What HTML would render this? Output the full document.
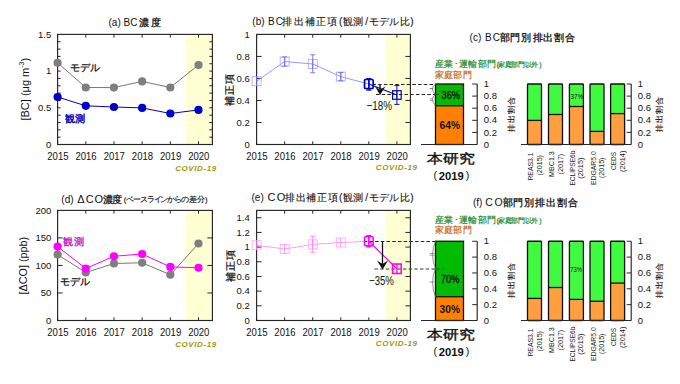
<!DOCTYPE html>
<html><head><meta charset="utf-8"><style>
html,body{margin:0;padding:0;background:#fff;width:680px;height:384px;overflow:hidden}
svg{display:block}
text{font-family:'Liberation Sans', sans-serif}
</style></head><body>
<svg width="680" height="384" viewBox="0 0 680 384">
<rect width="680" height="384" fill="#fff"/>
<rect x="186.00" y="34.40" width="26.40" height="110.10" fill="#ffffd4" stroke="none" stroke-width="1" />
<line x1="57.60" y1="34.40" x2="57.60" y2="37.60" stroke="#262626" stroke-width="1.0" />
<line x1="57.60" y1="144.50" x2="57.60" y2="141.30" stroke="#262626" stroke-width="1.0" />
<line x1="85.78" y1="34.40" x2="85.78" y2="37.60" stroke="#262626" stroke-width="1.0" />
<line x1="85.78" y1="144.50" x2="85.78" y2="141.30" stroke="#262626" stroke-width="1.0" />
<line x1="113.96" y1="34.40" x2="113.96" y2="37.60" stroke="#262626" stroke-width="1.0" />
<line x1="113.96" y1="144.50" x2="113.96" y2="141.30" stroke="#262626" stroke-width="1.0" />
<line x1="142.14" y1="34.40" x2="142.14" y2="37.60" stroke="#262626" stroke-width="1.0" />
<line x1="142.14" y1="144.50" x2="142.14" y2="141.30" stroke="#262626" stroke-width="1.0" />
<line x1="170.32" y1="34.40" x2="170.32" y2="37.60" stroke="#262626" stroke-width="1.0" />
<line x1="170.32" y1="144.50" x2="170.32" y2="141.30" stroke="#262626" stroke-width="1.0" />
<line x1="198.50" y1="34.40" x2="198.50" y2="37.60" stroke="#262626" stroke-width="1.0" />
<line x1="198.50" y1="144.50" x2="198.50" y2="141.30" stroke="#262626" stroke-width="1.0" />
<line x1="57.60" y1="137.16" x2="60.60" y2="137.16" stroke="#262626" stroke-width="1.0" />
<line x1="57.60" y1="129.82" x2="60.60" y2="129.82" stroke="#262626" stroke-width="1.0" />
<line x1="57.60" y1="122.48" x2="60.60" y2="122.48" stroke="#262626" stroke-width="1.0" />
<line x1="57.60" y1="115.14" x2="60.60" y2="115.14" stroke="#262626" stroke-width="1.0" />
<line x1="57.60" y1="107.80" x2="60.60" y2="107.80" stroke="#262626" stroke-width="1.0" />
<line x1="57.60" y1="100.46" x2="60.60" y2="100.46" stroke="#262626" stroke-width="1.0" />
<line x1="57.60" y1="93.12" x2="60.60" y2="93.12" stroke="#262626" stroke-width="1.0" />
<line x1="57.60" y1="85.78" x2="60.60" y2="85.78" stroke="#262626" stroke-width="1.0" />
<line x1="57.60" y1="78.44" x2="60.60" y2="78.44" stroke="#262626" stroke-width="1.0" />
<line x1="57.60" y1="71.10" x2="60.60" y2="71.10" stroke="#262626" stroke-width="1.0" />
<line x1="57.60" y1="63.76" x2="60.60" y2="63.76" stroke="#262626" stroke-width="1.0" />
<line x1="57.60" y1="56.42" x2="60.60" y2="56.42" stroke="#262626" stroke-width="1.0" />
<line x1="57.60" y1="49.08" x2="60.60" y2="49.08" stroke="#262626" stroke-width="1.0" />
<line x1="57.60" y1="41.74" x2="60.60" y2="41.74" stroke="#262626" stroke-width="1.0" />
<line x1="212.40" y1="137.16" x2="209.40" y2="137.16" stroke="#262626" stroke-width="1.0" />
<line x1="212.40" y1="129.82" x2="209.40" y2="129.82" stroke="#262626" stroke-width="1.0" />
<line x1="212.40" y1="122.48" x2="209.40" y2="122.48" stroke="#262626" stroke-width="1.0" />
<line x1="212.40" y1="115.14" x2="209.40" y2="115.14" stroke="#262626" stroke-width="1.0" />
<line x1="212.40" y1="107.80" x2="209.40" y2="107.80" stroke="#262626" stroke-width="1.0" />
<line x1="212.40" y1="100.46" x2="209.40" y2="100.46" stroke="#262626" stroke-width="1.0" />
<line x1="212.40" y1="93.12" x2="209.40" y2="93.12" stroke="#262626" stroke-width="1.0" />
<line x1="212.40" y1="85.78" x2="209.40" y2="85.78" stroke="#262626" stroke-width="1.0" />
<line x1="212.40" y1="78.44" x2="209.40" y2="78.44" stroke="#262626" stroke-width="1.0" />
<line x1="212.40" y1="71.10" x2="209.40" y2="71.10" stroke="#262626" stroke-width="1.0" />
<line x1="212.40" y1="63.76" x2="209.40" y2="63.76" stroke="#262626" stroke-width="1.0" />
<line x1="212.40" y1="56.42" x2="209.40" y2="56.42" stroke="#262626" stroke-width="1.0" />
<line x1="212.40" y1="49.08" x2="209.40" y2="49.08" stroke="#262626" stroke-width="1.0" />
<line x1="212.40" y1="41.74" x2="209.40" y2="41.74" stroke="#262626" stroke-width="1.0" />
<rect x="57.60" y="34.40" width="154.80" height="110.10" fill="none" stroke="#262626" stroke-width="1.15" />
<text x="51.30" y="37.60" font-size="9.9" text-anchor="end" fill="#111" textLength="13.21" lengthAdjust="spacingAndGlyphs">1.5</text>
<text x="51.30" y="74.30" font-size="9.9" text-anchor="end" fill="#111" textLength="5.28" lengthAdjust="spacingAndGlyphs">1</text>
<text x="51.30" y="111.00" font-size="9.9" text-anchor="end" fill="#111" textLength="13.21" lengthAdjust="spacingAndGlyphs">0.5</text>
<text x="51.30" y="147.70" font-size="9.9" text-anchor="end" fill="#111" textLength="5.28" lengthAdjust="spacingAndGlyphs">0</text>
<text x="57.90" y="160.20" font-size="10.3" text-anchor="middle" fill="#111" font-weight="normal" textLength="21.2" lengthAdjust="spacingAndGlyphs">2015</text>
<text x="86.08" y="160.20" font-size="10.3" text-anchor="middle" fill="#111" font-weight="normal" textLength="21.2" lengthAdjust="spacingAndGlyphs">2016</text>
<text x="114.26" y="160.20" font-size="10.3" text-anchor="middle" fill="#111" font-weight="normal" textLength="21.2" lengthAdjust="spacingAndGlyphs">2017</text>
<text x="142.44" y="160.20" font-size="10.3" text-anchor="middle" fill="#111" font-weight="normal" textLength="21.2" lengthAdjust="spacingAndGlyphs">2018</text>
<text x="170.62" y="160.20" font-size="10.3" text-anchor="middle" fill="#111" font-weight="normal" textLength="21.2" lengthAdjust="spacingAndGlyphs">2019</text>
<text x="198.80" y="160.20" font-size="10.3" text-anchor="middle" fill="#111" font-weight="normal" textLength="21.2" lengthAdjust="spacingAndGlyphs">2020</text>
<text x="196.00" y="171.00" font-size="8" text-anchor="middle" fill="#9c9a0a" font-weight="bold" font-style="italic" letter-spacing="0.6">COVID-19</text>
<text x="108.50" y="26.00" font-size="10" text-anchor="start" fill="#111" font-weight="normal" >(a) BC</text>
<text x="144.40 155.60" y="26.20" font-size="10" text-anchor="middle" fill="#111" stroke="#111" stroke-width="0.3">濃度</text>
<text transform="translate(28.6,89.2) rotate(-90)" font-size="11" text-anchor="middle" fill="#111">[BC] (μg m<tspan font-size="7" dy="-4.5">-3</tspan><tspan dy="4.5">)</tspan></text>
<polyline points="57.60,62.75 85.78,87.50 113.96,87.60 142.14,81.40 170.32,87.50 198.50,65.00" fill="none" stroke="#777" stroke-width="1"/>
<polyline points="57.60,97.00 85.78,105.80 113.96,107.00 142.14,107.90 170.32,113.50 198.50,109.90" fill="none" stroke="#0000c8" stroke-width="1"/>
<circle cx="57.60" cy="62.75" r="4.1" fill="#7f7f7f"/>
<circle cx="85.78" cy="87.50" r="4.1" fill="#7f7f7f"/>
<circle cx="113.96" cy="87.60" r="4.1" fill="#7f7f7f"/>
<circle cx="142.14" cy="81.40" r="4.1" fill="#7f7f7f"/>
<circle cx="170.32" cy="87.50" r="4.1" fill="#7f7f7f"/>
<circle cx="198.50" cy="65.00" r="4.1" fill="#7f7f7f"/>
<circle cx="57.60" cy="97.00" r="4.1" fill="#0000c8"/>
<circle cx="85.78" cy="105.80" r="4.1" fill="#0000c8"/>
<circle cx="113.96" cy="107.00" r="4.1" fill="#0000c8"/>
<circle cx="142.14" cy="107.90" r="4.1" fill="#0000c8"/>
<circle cx="170.32" cy="113.50" r="4.1" fill="#0000c8"/>
<circle cx="198.50" cy="109.90" r="4.1" fill="#0000c8"/>
<text x="69.50" y="71.20" font-size="10" text-anchor="start" fill="#111" font-weight="normal" stroke="#111" stroke-width="0.3">モデル</text>
<text x="64.60" y="122.00" font-size="10" text-anchor="start" fill="#1010c0" font-weight="normal" letter-spacing="0.6" stroke="#1010c0" stroke-width="0.5">観測</text>
<rect x="186.00" y="210.40" width="26.40" height="110.10" fill="#ffffd4" stroke="none" stroke-width="1" />
<line x1="57.60" y1="210.40" x2="57.60" y2="213.60" stroke="#262626" stroke-width="1.0" />
<line x1="57.60" y1="320.50" x2="57.60" y2="317.30" stroke="#262626" stroke-width="1.0" />
<line x1="85.78" y1="210.40" x2="85.78" y2="213.60" stroke="#262626" stroke-width="1.0" />
<line x1="85.78" y1="320.50" x2="85.78" y2="317.30" stroke="#262626" stroke-width="1.0" />
<line x1="113.96" y1="210.40" x2="113.96" y2="213.60" stroke="#262626" stroke-width="1.0" />
<line x1="113.96" y1="320.50" x2="113.96" y2="317.30" stroke="#262626" stroke-width="1.0" />
<line x1="142.14" y1="210.40" x2="142.14" y2="213.60" stroke="#262626" stroke-width="1.0" />
<line x1="142.14" y1="320.50" x2="142.14" y2="317.30" stroke="#262626" stroke-width="1.0" />
<line x1="170.32" y1="210.40" x2="170.32" y2="213.60" stroke="#262626" stroke-width="1.0" />
<line x1="170.32" y1="320.50" x2="170.32" y2="317.30" stroke="#262626" stroke-width="1.0" />
<line x1="198.50" y1="210.40" x2="198.50" y2="213.60" stroke="#262626" stroke-width="1.0" />
<line x1="198.50" y1="320.50" x2="198.50" y2="317.30" stroke="#262626" stroke-width="1.0" />
<line x1="57.60" y1="292.98" x2="62.60" y2="292.98" stroke="#262626" stroke-width="1.0" />
<line x1="57.60" y1="265.45" x2="62.60" y2="265.45" stroke="#262626" stroke-width="1.0" />
<line x1="57.60" y1="237.93" x2="62.60" y2="237.93" stroke="#262626" stroke-width="1.0" />
<line x1="212.40" y1="292.98" x2="207.40" y2="292.98" stroke="#262626" stroke-width="1.0" />
<line x1="212.40" y1="265.45" x2="207.40" y2="265.45" stroke="#262626" stroke-width="1.0" />
<line x1="212.40" y1="237.93" x2="207.40" y2="237.93" stroke="#262626" stroke-width="1.0" />
<rect x="57.60" y="210.40" width="154.80" height="110.10" fill="none" stroke="#262626" stroke-width="1.15" />
<text x="51.30" y="213.60" font-size="9.9" text-anchor="end" fill="#111" textLength="15.85" lengthAdjust="spacingAndGlyphs">200</text>
<text x="51.30" y="241.12" font-size="9.9" text-anchor="end" fill="#111" textLength="15.85" lengthAdjust="spacingAndGlyphs">150</text>
<text x="51.30" y="268.65" font-size="9.9" text-anchor="end" fill="#111" textLength="15.85" lengthAdjust="spacingAndGlyphs">100</text>
<text x="51.30" y="296.18" font-size="9.9" text-anchor="end" fill="#111" textLength="10.56" lengthAdjust="spacingAndGlyphs">50</text>
<text x="51.30" y="323.70" font-size="9.9" text-anchor="end" fill="#111" textLength="5.28" lengthAdjust="spacingAndGlyphs">0</text>
<text x="57.90" y="336.20" font-size="10.3" text-anchor="middle" fill="#111" font-weight="normal" textLength="21.2" lengthAdjust="spacingAndGlyphs">2015</text>
<text x="86.08" y="336.20" font-size="10.3" text-anchor="middle" fill="#111" font-weight="normal" textLength="21.2" lengthAdjust="spacingAndGlyphs">2016</text>
<text x="114.26" y="336.20" font-size="10.3" text-anchor="middle" fill="#111" font-weight="normal" textLength="21.2" lengthAdjust="spacingAndGlyphs">2017</text>
<text x="142.44" y="336.20" font-size="10.3" text-anchor="middle" fill="#111" font-weight="normal" textLength="21.2" lengthAdjust="spacingAndGlyphs">2018</text>
<text x="170.62" y="336.20" font-size="10.3" text-anchor="middle" fill="#111" font-weight="normal" textLength="21.2" lengthAdjust="spacingAndGlyphs">2019</text>
<text x="198.80" y="336.20" font-size="10.3" text-anchor="middle" fill="#111" font-weight="normal" textLength="21.2" lengthAdjust="spacingAndGlyphs">2020</text>
<text x="196.00" y="347.00" font-size="8" text-anchor="middle" fill="#9c9a0a" font-weight="bold" font-style="italic" letter-spacing="0.6">COVID-19</text>
<text x="61.30" y="202.60" font-size="10" text-anchor="start" fill="#111" font-weight="normal" >(d)</text>
<text x="81.00 89.80 98.80" y="202.60" font-size="11" text-anchor="middle" fill="#111" >ΔCO</text>
<text x="107.50 116.90" y="202.80" font-size="10" text-anchor="middle" fill="#111" stroke="#111" stroke-width="0.3">濃度</text>
<text x="125.00 130.20 137.20 144.00 150.80 157.50 164.30 171.40 177.80 184.60 192.70 200.80 206.30" y="202.20" font-size="7.6" text-anchor="middle" fill="#111" stroke="#111" stroke-width="0.15">(ベースラインからの差分)</text>
<text transform="translate(26.6,265.6) rotate(-90)" font-size="10.8" text-anchor="middle" fill="#111">[ΔCO] (ppb)</text>
<polyline points="57.60,254.60 85.78,272.50 113.96,263.50 142.14,262.75 170.32,274.75 198.50,243.50" fill="none" stroke="#777" stroke-width="1"/>
<polyline points="57.60,246.60 85.78,268.50 113.96,256.25 142.14,254.00 170.32,266.90 198.50,267.75" fill="none" stroke="#ff00ff" stroke-width="1.0"/>
<circle cx="57.60" cy="254.60" r="4.1" fill="#7f7f7f"/>
<circle cx="85.78" cy="272.50" r="4.1" fill="#7f7f7f"/>
<circle cx="113.96" cy="263.50" r="4.1" fill="#7f7f7f"/>
<circle cx="142.14" cy="262.75" r="4.1" fill="#7f7f7f"/>
<circle cx="170.32" cy="274.75" r="4.1" fill="#7f7f7f"/>
<circle cx="198.50" cy="243.50" r="4.1" fill="#7f7f7f"/>
<circle cx="57.60" cy="246.60" r="4.1" fill="#ff00ff"/>
<circle cx="85.78" cy="268.50" r="4.1" fill="#ff00ff"/>
<circle cx="113.96" cy="256.25" r="4.1" fill="#ff00ff"/>
<circle cx="142.14" cy="254.00" r="4.1" fill="#ff00ff"/>
<circle cx="170.32" cy="266.90" r="4.1" fill="#ff00ff"/>
<circle cx="198.50" cy="267.75" r="4.1" fill="#ff00ff"/>
<text x="63.00" y="245.20" font-size="10" text-anchor="start" fill="#c020c0" font-weight="normal" letter-spacing="0.5" stroke="#c020c0" stroke-width="0.35">観測</text>
<text x="60.00" y="284.60" font-size="10" text-anchor="start" fill="#111" font-weight="normal" stroke="#111" stroke-width="0.3">モデル</text>
<rect x="385.50" y="34.40" width="24.90" height="110.10" fill="#ffffd4" stroke="none" stroke-width="1" />
<line x1="256.60" y1="34.40" x2="256.60" y2="37.60" stroke="#262626" stroke-width="1.0" />
<line x1="256.60" y1="144.50" x2="256.60" y2="141.30" stroke="#262626" stroke-width="1.0" />
<line x1="284.66" y1="34.40" x2="284.66" y2="37.60" stroke="#262626" stroke-width="1.0" />
<line x1="284.66" y1="144.50" x2="284.66" y2="141.30" stroke="#262626" stroke-width="1.0" />
<line x1="312.72" y1="34.40" x2="312.72" y2="37.60" stroke="#262626" stroke-width="1.0" />
<line x1="312.72" y1="144.50" x2="312.72" y2="141.30" stroke="#262626" stroke-width="1.0" />
<line x1="340.78" y1="34.40" x2="340.78" y2="37.60" stroke="#262626" stroke-width="1.0" />
<line x1="340.78" y1="144.50" x2="340.78" y2="141.30" stroke="#262626" stroke-width="1.0" />
<line x1="368.84" y1="34.40" x2="368.84" y2="37.60" stroke="#262626" stroke-width="1.0" />
<line x1="368.84" y1="144.50" x2="368.84" y2="141.30" stroke="#262626" stroke-width="1.0" />
<line x1="396.90" y1="34.40" x2="396.90" y2="37.60" stroke="#262626" stroke-width="1.0" />
<line x1="396.90" y1="144.50" x2="396.90" y2="141.30" stroke="#262626" stroke-width="1.0" />
<line x1="256.60" y1="122.48" x2="261.60" y2="122.48" stroke="#262626" stroke-width="1.0" />
<line x1="256.60" y1="100.46" x2="261.60" y2="100.46" stroke="#262626" stroke-width="1.0" />
<line x1="256.60" y1="78.44" x2="261.60" y2="78.44" stroke="#262626" stroke-width="1.0" />
<line x1="256.60" y1="56.42" x2="261.60" y2="56.42" stroke="#262626" stroke-width="1.0" />
<line x1="410.40" y1="122.48" x2="405.40" y2="122.48" stroke="#262626" stroke-width="1.0" />
<line x1="410.40" y1="100.46" x2="405.40" y2="100.46" stroke="#262626" stroke-width="1.0" />
<line x1="410.40" y1="78.44" x2="405.40" y2="78.44" stroke="#262626" stroke-width="1.0" />
<line x1="410.40" y1="56.42" x2="405.40" y2="56.42" stroke="#262626" stroke-width="1.0" />
<rect x="256.60" y="34.40" width="153.80" height="110.10" fill="none" stroke="#262626" stroke-width="1.15" />
<text x="249.80" y="37.60" font-size="9.9" text-anchor="end" fill="#111" textLength="5.28" lengthAdjust="spacingAndGlyphs">1</text>
<text x="249.80" y="59.62" font-size="9.9" text-anchor="end" fill="#111" textLength="13.21" lengthAdjust="spacingAndGlyphs">0.8</text>
<text x="249.80" y="81.64" font-size="9.9" text-anchor="end" fill="#111" textLength="13.21" lengthAdjust="spacingAndGlyphs">0.6</text>
<text x="249.80" y="103.66" font-size="9.9" text-anchor="end" fill="#111" textLength="13.21" lengthAdjust="spacingAndGlyphs">0.4</text>
<text x="249.80" y="125.68" font-size="9.9" text-anchor="end" fill="#111" textLength="13.21" lengthAdjust="spacingAndGlyphs">0.2</text>
<text x="249.80" y="147.70" font-size="9.9" text-anchor="end" fill="#111" textLength="5.28" lengthAdjust="spacingAndGlyphs">0</text>
<text x="256.90" y="160.20" font-size="10.3" text-anchor="middle" fill="#111" font-weight="normal" textLength="21.2" lengthAdjust="spacingAndGlyphs">2015</text>
<text x="284.96" y="160.20" font-size="10.3" text-anchor="middle" fill="#111" font-weight="normal" textLength="21.2" lengthAdjust="spacingAndGlyphs">2016</text>
<text x="313.02" y="160.20" font-size="10.3" text-anchor="middle" fill="#111" font-weight="normal" textLength="21.2" lengthAdjust="spacingAndGlyphs">2017</text>
<text x="341.08" y="160.20" font-size="10.3" text-anchor="middle" fill="#111" font-weight="normal" textLength="21.2" lengthAdjust="spacingAndGlyphs">2018</text>
<text x="369.14" y="160.20" font-size="10.3" text-anchor="middle" fill="#111" font-weight="normal" textLength="21.2" lengthAdjust="spacingAndGlyphs">2019</text>
<text x="397.20" y="160.20" font-size="10.3" text-anchor="middle" fill="#111" font-weight="normal" textLength="21.2" lengthAdjust="spacingAndGlyphs">2020</text>
<text x="396.70" y="170.20" font-size="8" text-anchor="middle" fill="#9c9a0a" font-weight="bold" font-style="italic" letter-spacing="0.6">COVID-19</text>
<text x="252.30" y="24.90" font-size="10" text-anchor="start" fill="#111" font-weight="normal" >(b)</text>
<text x="271.30 279.30" y="24.90" font-size="10" text-anchor="middle" fill="#111" >BC</text>
<text x="287.20 299.10 309.70 321.00 332.20 340.60 348.10 358.40 366.60 374.30 384.00 394.30 405.00 411.80" y="24.80" font-size="10" text-anchor="middle" fill="#111" stroke="#111" stroke-width="0.12">排出補正項(観測/モデル比)</text>
<text transform="translate(233.2,89.2) rotate(-90)" font-size="10" text-anchor="middle" fill="#111" letter-spacing="0.9" stroke="#111" stroke-width="0.3">補正項</text>
<polyline points="256.60,81.25 284.66,61.50 312.72,64.00 340.78,76.60" fill="none" stroke="#8c8cff" stroke-width="0.9"/>
<line x1="340.78" y1="76.60" x2="368.84" y2="84.00" stroke="#8c8cff" stroke-width="0.9" />
<line x1="368.84" y1="84.00" x2="396.90" y2="95.00" stroke="#0000cc" stroke-width="1.1" />
<rect x="252.10" y="76.75" width="9.00" height="9.00" fill="none" stroke="#a4a4ff" stroke-width="0.8" rx="0"/>
<line x1="256.60" y1="76.75" x2="256.60" y2="85.75" stroke="#7070ff" stroke-width="0.9" />
<rect x="280.16" y="57.00" width="9.00" height="9.00" fill="none" stroke="#a4a4ff" stroke-width="0.8" rx="0"/>
<line x1="284.66" y1="57.00" x2="284.66" y2="66.00" stroke="#7070ff" stroke-width="0.9" />
<line x1="284.66" y1="56.90" x2="284.66" y2="66.25" stroke="#7070ff" stroke-width="0.9" />
<line x1="282.06" y1="56.90" x2="287.26" y2="56.90" stroke="#7070ff" stroke-width="0.9" />
<line x1="282.06" y1="66.25" x2="287.26" y2="66.25" stroke="#7070ff" stroke-width="0.9" />
<rect x="308.22" y="59.50" width="9.00" height="9.00" fill="none" stroke="#a4a4ff" stroke-width="0.8" rx="0"/>
<line x1="312.72" y1="59.50" x2="312.72" y2="68.50" stroke="#7070ff" stroke-width="0.9" />
<line x1="312.72" y1="54.75" x2="312.72" y2="72.75" stroke="#7070ff" stroke-width="0.9" />
<line x1="310.12" y1="54.75" x2="315.32" y2="54.75" stroke="#7070ff" stroke-width="0.9" />
<line x1="310.12" y1="72.75" x2="315.32" y2="72.75" stroke="#7070ff" stroke-width="0.9" />
<rect x="336.28" y="72.10" width="9.00" height="9.00" fill="none" stroke="#a4a4ff" stroke-width="0.8" rx="0"/>
<line x1="340.78" y1="72.10" x2="340.78" y2="81.10" stroke="#7070ff" stroke-width="0.9" />
<line x1="340.78" y1="72.50" x2="340.78" y2="80.60" stroke="#7070ff" stroke-width="0.9" />
<line x1="338.18" y1="72.50" x2="343.38" y2="72.50" stroke="#7070ff" stroke-width="0.9" />
<line x1="338.18" y1="80.60" x2="343.38" y2="80.60" stroke="#7070ff" stroke-width="0.9" />
<line x1="372.50" y1="84.50" x2="435.50" y2="84.50" stroke="#222" stroke-width="1.0" stroke-dasharray="3.5,2.2"/>
<line x1="376.00" y1="94.50" x2="440.00" y2="94.50" stroke="#222" stroke-width="1.0" stroke-dasharray="3.5,2.2"/>
<rect x="364.54" y="79.50" width="8.60" height="9.00" fill="none" stroke="#0000cc" stroke-width="1.7" rx="1"/>
<line x1="368.84" y1="79.50" x2="368.84" y2="88.50" stroke="#0000cc" stroke-width="1.36" />
<line x1="368.84" y1="78.75" x2="368.84" y2="90.00" stroke="#0000cc" stroke-width="1.36" />
<line x1="366.24" y1="78.75" x2="371.44" y2="78.75" stroke="#0000cc" stroke-width="1.36" />
<line x1="366.24" y1="90.00" x2="371.44" y2="90.00" stroke="#0000cc" stroke-width="1.36" />
<rect x="392.60" y="90.70" width="8.60" height="8.60" fill="none" stroke="#0000cc" stroke-width="1.2" rx="0"/>
<line x1="396.90" y1="90.70" x2="396.90" y2="99.30" stroke="#0000cc" stroke-width="0.96" />
<line x1="396.90" y1="85.60" x2="396.90" y2="104.40" stroke="#0000cc" stroke-width="0.96" />
<line x1="394.30" y1="85.60" x2="399.50" y2="85.60" stroke="#0000cc" stroke-width="0.96" />
<line x1="394.30" y1="104.40" x2="399.50" y2="104.40" stroke="#0000cc" stroke-width="0.96" />
<line x1="380.00" y1="84.50" x2="380.00" y2="90.00" stroke="#111" stroke-width="1.4" />
<path d="M375,86.2 L380,95 L385.5,86.2 L380,90 Z" fill="#111"/>
<text x="366.50" y="109.75" font-size="12.5" fill="#111" font-weight="normal" textLength="25.40" lengthAdjust="spacingAndGlyphs">−18%</text>
<rect x="385.50" y="210.40" width="24.90" height="110.10" fill="#ffffd4" stroke="none" stroke-width="1" />
<line x1="256.60" y1="210.40" x2="256.60" y2="213.60" stroke="#262626" stroke-width="1.0" />
<line x1="256.60" y1="320.50" x2="256.60" y2="317.30" stroke="#262626" stroke-width="1.0" />
<line x1="284.66" y1="210.40" x2="284.66" y2="213.60" stroke="#262626" stroke-width="1.0" />
<line x1="284.66" y1="320.50" x2="284.66" y2="317.30" stroke="#262626" stroke-width="1.0" />
<line x1="312.72" y1="210.40" x2="312.72" y2="213.60" stroke="#262626" stroke-width="1.0" />
<line x1="312.72" y1="320.50" x2="312.72" y2="317.30" stroke="#262626" stroke-width="1.0" />
<line x1="340.78" y1="210.40" x2="340.78" y2="213.60" stroke="#262626" stroke-width="1.0" />
<line x1="340.78" y1="320.50" x2="340.78" y2="317.30" stroke="#262626" stroke-width="1.0" />
<line x1="368.84" y1="210.40" x2="368.84" y2="213.60" stroke="#262626" stroke-width="1.0" />
<line x1="368.84" y1="320.50" x2="368.84" y2="317.30" stroke="#262626" stroke-width="1.0" />
<line x1="396.90" y1="210.40" x2="396.90" y2="213.60" stroke="#262626" stroke-width="1.0" />
<line x1="396.90" y1="320.50" x2="396.90" y2="317.30" stroke="#262626" stroke-width="1.0" />
<line x1="256.60" y1="305.82" x2="261.60" y2="305.82" stroke="#262626" stroke-width="1.0" />
<line x1="256.60" y1="291.14" x2="261.60" y2="291.14" stroke="#262626" stroke-width="1.0" />
<line x1="256.60" y1="276.46" x2="261.60" y2="276.46" stroke="#262626" stroke-width="1.0" />
<line x1="256.60" y1="261.78" x2="261.60" y2="261.78" stroke="#262626" stroke-width="1.0" />
<line x1="256.60" y1="247.10" x2="261.60" y2="247.10" stroke="#262626" stroke-width="1.0" />
<line x1="256.60" y1="232.42" x2="261.60" y2="232.42" stroke="#262626" stroke-width="1.0" />
<line x1="256.60" y1="217.74" x2="261.60" y2="217.74" stroke="#262626" stroke-width="1.0" />
<line x1="410.40" y1="305.82" x2="405.40" y2="305.82" stroke="#262626" stroke-width="1.0" />
<line x1="410.40" y1="291.14" x2="405.40" y2="291.14" stroke="#262626" stroke-width="1.0" />
<line x1="410.40" y1="276.46" x2="405.40" y2="276.46" stroke="#262626" stroke-width="1.0" />
<line x1="410.40" y1="261.78" x2="405.40" y2="261.78" stroke="#262626" stroke-width="1.0" />
<line x1="410.40" y1="247.10" x2="405.40" y2="247.10" stroke="#262626" stroke-width="1.0" />
<line x1="410.40" y1="232.42" x2="405.40" y2="232.42" stroke="#262626" stroke-width="1.0" />
<line x1="410.40" y1="217.74" x2="405.40" y2="217.74" stroke="#262626" stroke-width="1.0" />
<rect x="256.60" y="210.40" width="153.80" height="110.10" fill="none" stroke="#262626" stroke-width="1.15" />
<text x="249.80" y="323.70" font-size="9.9" text-anchor="end" fill="#111" textLength="5.28" lengthAdjust="spacingAndGlyphs">0</text>
<text x="249.80" y="309.02" font-size="9.9" text-anchor="end" fill="#111" textLength="13.21" lengthAdjust="spacingAndGlyphs">0.2</text>
<text x="249.80" y="294.34" font-size="9.9" text-anchor="end" fill="#111" textLength="13.21" lengthAdjust="spacingAndGlyphs">0.4</text>
<text x="249.80" y="279.66" font-size="9.9" text-anchor="end" fill="#111" textLength="13.21" lengthAdjust="spacingAndGlyphs">0.6</text>
<text x="249.80" y="264.98" font-size="9.9" text-anchor="end" fill="#111" textLength="13.21" lengthAdjust="spacingAndGlyphs">0.8</text>
<text x="249.80" y="250.30" font-size="9.9" text-anchor="end" fill="#111" textLength="5.28" lengthAdjust="spacingAndGlyphs">1</text>
<text x="249.80" y="235.62" font-size="9.9" text-anchor="end" fill="#111" textLength="13.21" lengthAdjust="spacingAndGlyphs">1.2</text>
<text x="249.80" y="220.94" font-size="9.9" text-anchor="end" fill="#111" textLength="13.21" lengthAdjust="spacingAndGlyphs">1.4</text>
<text x="256.90" y="336.20" font-size="10.3" text-anchor="middle" fill="#111" font-weight="normal" textLength="21.2" lengthAdjust="spacingAndGlyphs">2015</text>
<text x="284.96" y="336.20" font-size="10.3" text-anchor="middle" fill="#111" font-weight="normal" textLength="21.2" lengthAdjust="spacingAndGlyphs">2016</text>
<text x="313.02" y="336.20" font-size="10.3" text-anchor="middle" fill="#111" font-weight="normal" textLength="21.2" lengthAdjust="spacingAndGlyphs">2017</text>
<text x="341.08" y="336.20" font-size="10.3" text-anchor="middle" fill="#111" font-weight="normal" textLength="21.2" lengthAdjust="spacingAndGlyphs">2018</text>
<text x="369.14" y="336.20" font-size="10.3" text-anchor="middle" fill="#111" font-weight="normal" textLength="21.2" lengthAdjust="spacingAndGlyphs">2019</text>
<text x="397.20" y="336.20" font-size="10.3" text-anchor="middle" fill="#111" font-weight="normal" textLength="21.2" lengthAdjust="spacingAndGlyphs">2020</text>
<text x="396.70" y="346.20" font-size="8" text-anchor="middle" fill="#9c9a0a" font-weight="bold" font-style="italic" letter-spacing="0.6">COVID-19</text>
<text x="251.50" y="201.20" font-size="10" text-anchor="start" fill="#111" font-weight="normal" >(e)</text>
<text x="271.60 281.00" y="201.20" font-size="11" text-anchor="middle" fill="#111" >CO</text>
<text x="290.00 300.60 310.90 321.90 332.70 340.60 348.10 358.40 366.60 374.30 384.00 394.30 405.00 411.80" y="201.40" font-size="10" text-anchor="middle" fill="#111" stroke="#111" stroke-width="0.12">排出補正項(観測/モデル比)</text>
<text transform="translate(233.5,265.6) rotate(-90)" font-size="10" text-anchor="middle" fill="#111" letter-spacing="0.9" stroke="#111" stroke-width="0.3">補正項</text>
<polyline points="256.60,245.25 284.66,249.00 312.72,244.40 340.78,242.50 368.84,241.25" fill="none" stroke="#ff90ff" stroke-width="0.9"/>
<line x1="368.84" y1="241.25" x2="396.90" y2="268.75" stroke="#ff00ff" stroke-width="1.2" />
<rect x="252.10" y="240.75" width="9.00" height="9.00" fill="none" stroke="#ffa0ff" stroke-width="0.8" rx="0"/>
<line x1="256.60" y1="240.75" x2="256.60" y2="249.75" stroke="#ff80ff" stroke-width="0.9" />
<rect x="280.16" y="244.50" width="9.00" height="9.00" fill="none" stroke="#ffa0ff" stroke-width="0.8" rx="0"/>
<line x1="284.66" y1="244.50" x2="284.66" y2="253.50" stroke="#ff80ff" stroke-width="0.9" />
<rect x="308.22" y="239.90" width="9.00" height="9.00" fill="none" stroke="#ffa0ff" stroke-width="0.8" rx="0"/>
<line x1="312.72" y1="239.90" x2="312.72" y2="248.90" stroke="#ff80ff" stroke-width="0.9" />
<line x1="312.72" y1="236.25" x2="312.72" y2="252.25" stroke="#ff80ff" stroke-width="0.9" />
<line x1="310.12" y1="236.25" x2="315.32" y2="236.25" stroke="#ff80ff" stroke-width="0.9" />
<line x1="310.12" y1="252.25" x2="315.32" y2="252.25" stroke="#ff80ff" stroke-width="0.9" />
<rect x="336.28" y="238.00" width="9.00" height="9.00" fill="none" stroke="#ffa0ff" stroke-width="0.8" rx="0"/>
<line x1="340.78" y1="238.00" x2="340.78" y2="247.00" stroke="#ff80ff" stroke-width="0.9" />
<line x1="363.75" y1="241.50" x2="435.50" y2="241.50" stroke="#222" stroke-width="1.0" stroke-dasharray="3.5,2.2"/>
<line x1="374.40" y1="269.00" x2="436.00" y2="269.00" stroke="#3a3a3a" stroke-width="1.0" stroke-dasharray="3.5,2.2"/>
<rect x="364.54" y="236.75" width="8.60" height="9.00" fill="none" stroke="#ff00ff" stroke-width="1.6" rx="1"/>
<line x1="368.84" y1="236.75" x2="368.84" y2="245.75" stroke="#ff00ff" stroke-width="1.2800000000000002" />
<line x1="368.84" y1="235.60" x2="368.84" y2="246.90" stroke="#ff00ff" stroke-width="1.2800000000000002" />
<line x1="366.24" y1="235.60" x2="371.44" y2="235.60" stroke="#ff00ff" stroke-width="1.2800000000000002" />
<line x1="366.24" y1="246.90" x2="371.44" y2="246.90" stroke="#ff00ff" stroke-width="1.2800000000000002" />
<rect x="392.60" y="264.05" width="8.60" height="9.40" fill="none" stroke="#ff00ff" stroke-width="1.6" rx="0"/>
<line x1="396.90" y1="264.05" x2="396.90" y2="273.45" stroke="#ff00ff" stroke-width="1.2800000000000002" />
<line x1="382.50" y1="241.50" x2="382.50" y2="265.00" stroke="#111" stroke-width="1.3" />
<path d="M377,260.5 L382.5,269.5 L388,260.5 L382.5,264 Z" fill="#111"/>
<text x="369.10" y="285.00" font-size="12.5" fill="#111" font-weight="normal" textLength="24.65" lengthAdjust="spacingAndGlyphs">−35%</text>
<rect x="435.50" y="84.00" width="28.00" height="21.78" fill="#00bb00" stroke="none" stroke-width="1" />
<rect x="435.50" y="105.78" width="28.00" height="38.72" fill="#ff8000" stroke="none" stroke-width="1" />
<rect x="435.50" y="84.00" width="28.00" height="60.50" fill="none" stroke="#111" stroke-width="1.3" />
<line x1="435.50" y1="105.78" x2="463.50" y2="105.78" stroke="#111" stroke-width="1.3" />
<line x1="421.00" y1="144.50" x2="477.20" y2="144.50" stroke="#262626" stroke-width="1.15" />
<line x1="477.20" y1="84.00" x2="477.20" y2="144.50" stroke="#262626" stroke-width="1.15" />
<line x1="477.20" y1="144.50" x2="472.20" y2="144.50" stroke="#262626" stroke-width="1.0" />
<text x="483.80" y="147.60" font-size="9.9" text-anchor="start" fill="#111" textLength="5.28" lengthAdjust="spacingAndGlyphs">0</text>
<line x1="477.20" y1="132.40" x2="472.20" y2="132.40" stroke="#262626" stroke-width="1.0" />
<text x="483.80" y="135.50" font-size="9.9" text-anchor="start" fill="#111" textLength="13.21" lengthAdjust="spacingAndGlyphs">0.2</text>
<line x1="477.20" y1="120.30" x2="472.20" y2="120.30" stroke="#262626" stroke-width="1.0" />
<text x="483.80" y="123.40" font-size="9.9" text-anchor="start" fill="#111" textLength="13.21" lengthAdjust="spacingAndGlyphs">0.4</text>
<line x1="477.20" y1="108.20" x2="472.20" y2="108.20" stroke="#262626" stroke-width="1.0" />
<text x="483.80" y="111.30" font-size="9.9" text-anchor="start" fill="#111" textLength="13.21" lengthAdjust="spacingAndGlyphs">0.6</text>
<line x1="477.20" y1="96.10" x2="472.20" y2="96.10" stroke="#262626" stroke-width="1.0" />
<text x="483.80" y="99.20" font-size="9.9" text-anchor="start" fill="#111" textLength="13.21" lengthAdjust="spacingAndGlyphs">0.8</text>
<line x1="477.20" y1="84.00" x2="472.20" y2="84.00" stroke="#262626" stroke-width="1.0" />
<text x="483.80" y="87.10" font-size="9.9" text-anchor="start" fill="#111" textLength="5.28" lengthAdjust="spacingAndGlyphs">1</text>
<g transform="translate(513.9,114.25) rotate(-90)">
<text x="-13.60 -4.50 4.50 13.60" y="0.00" font-size="8.0" text-anchor="middle" fill="#111" stroke="#111" stroke-width="0.1">排出割合</text>
</g>
<rect x="527.50" y="84.00" width="14.00" height="36.40" fill="#40fa40" stroke="none" stroke-width="1" />
<rect x="527.50" y="120.40" width="14.00" height="24.10" fill="#ff9f3f" stroke="none" stroke-width="1" />
<rect x="527.50" y="84.00" width="14.00" height="60.50" fill="none" stroke="#111" stroke-width="1.3" rx="0.8"/>
<line x1="527.50" y1="120.40" x2="541.50" y2="120.40" stroke="#111" stroke-width="1.3" />
<rect x="548.50" y="84.00" width="14.00" height="30.50" fill="#40fa40" stroke="none" stroke-width="1" />
<rect x="548.50" y="114.50" width="14.00" height="30.00" fill="#ff9f3f" stroke="none" stroke-width="1" />
<rect x="548.50" y="84.00" width="14.00" height="60.50" fill="none" stroke="#111" stroke-width="1.3" rx="0.8"/>
<line x1="548.50" y1="114.50" x2="562.50" y2="114.50" stroke="#111" stroke-width="1.3" />
<rect x="569.40" y="84.00" width="14.00" height="22.50" fill="#40fa40" stroke="none" stroke-width="1" />
<rect x="569.40" y="106.50" width="14.00" height="38.00" fill="#ff9f3f" stroke="none" stroke-width="1" />
<rect x="569.40" y="84.00" width="14.00" height="60.50" fill="none" stroke="#111" stroke-width="1.3" rx="0.8"/>
<line x1="569.40" y1="106.50" x2="583.40" y2="106.50" stroke="#111" stroke-width="1.3" />
<rect x="590.00" y="84.00" width="14.00" height="47.40" fill="#40fa40" stroke="none" stroke-width="1" />
<rect x="590.00" y="131.40" width="14.00" height="13.10" fill="#ff9f3f" stroke="none" stroke-width="1" />
<rect x="590.00" y="84.00" width="14.00" height="60.50" fill="none" stroke="#111" stroke-width="1.3" rx="0.8"/>
<line x1="590.00" y1="131.40" x2="604.00" y2="131.40" stroke="#111" stroke-width="1.3" />
<rect x="610.60" y="84.00" width="14.00" height="29.60" fill="#40fa40" stroke="none" stroke-width="1" />
<rect x="610.60" y="113.60" width="14.00" height="30.90" fill="#ff9f3f" stroke="none" stroke-width="1" />
<rect x="610.60" y="84.00" width="14.00" height="60.50" fill="none" stroke="#111" stroke-width="1.3" rx="0.8"/>
<line x1="610.60" y1="113.60" x2="624.60" y2="113.60" stroke="#111" stroke-width="1.3" />
<line x1="521.00" y1="144.50" x2="631.20" y2="144.50" stroke="#262626" stroke-width="1.15" />
<line x1="631.20" y1="84.00" x2="631.20" y2="144.50" stroke="#262626" stroke-width="1.15" />
<line x1="631.20" y1="144.50" x2="626.70" y2="144.50" stroke="#262626" stroke-width="1.0" />
<text x="637.80" y="147.60" font-size="9.9" text-anchor="start" fill="#111" textLength="5.28" lengthAdjust="spacingAndGlyphs">0</text>
<line x1="631.20" y1="132.40" x2="626.70" y2="132.40" stroke="#262626" stroke-width="1.0" />
<text x="637.80" y="135.50" font-size="9.9" text-anchor="start" fill="#111" textLength="13.21" lengthAdjust="spacingAndGlyphs">0.2</text>
<line x1="631.20" y1="120.30" x2="626.70" y2="120.30" stroke="#262626" stroke-width="1.0" />
<text x="637.80" y="123.40" font-size="9.9" text-anchor="start" fill="#111" textLength="13.21" lengthAdjust="spacingAndGlyphs">0.4</text>
<line x1="631.20" y1="108.20" x2="626.70" y2="108.20" stroke="#262626" stroke-width="1.0" />
<text x="637.80" y="111.30" font-size="9.9" text-anchor="start" fill="#111" textLength="13.21" lengthAdjust="spacingAndGlyphs">0.6</text>
<line x1="631.20" y1="96.10" x2="626.70" y2="96.10" stroke="#262626" stroke-width="1.0" />
<text x="637.80" y="99.20" font-size="9.9" text-anchor="start" fill="#111" textLength="13.21" lengthAdjust="spacingAndGlyphs">0.8</text>
<line x1="631.20" y1="84.00" x2="626.70" y2="84.00" stroke="#262626" stroke-width="1.0" />
<text x="637.80" y="87.10" font-size="9.9" text-anchor="start" fill="#111" textLength="5.28" lengthAdjust="spacingAndGlyphs">1</text>
<g transform="translate(661.5,114.25) rotate(-90)">
<text x="-13.60 -4.50 4.50 13.60" y="0.00" font-size="8.0" text-anchor="middle" fill="#111" stroke="#111" stroke-width="0.1">排出割合</text>
</g>
<text x="469.60" y="41.00" font-size="10" fill="#111">(c)</text>
<text x="488.30 496.30" y="41.00" font-size="10" text-anchor="middle" fill="#111" >BC</text>
<text x="504.70 515.30 526.20 537.50 548.10 559.40 570.30" y="41.20" font-size="10" text-anchor="middle" fill="#111" stroke="#111" stroke-width="0.3">部門別排出割合</text>
<text x="439.20 448.70 456.20 463.30 472.80 482.30 491.80" y="67.20" font-size="9" text-anchor="middle" fill="#1f8a1f" stroke="#1f8a1f" stroke-width="0.2">産業･運輸部門</text>
<text x="497.60 501.90 508.30 514.90 521.30 528.00 534.80 540.50" y="66.80" font-size="7" text-anchor="middle" fill="#1f8a1f" stroke="#1f8a1f" stroke-width="0.2">(家庭部門以外)</text>
<text x="439.00 448.40 457.90 467.40" y="77.50" font-size="9" text-anchor="middle" fill="#c4661c" stroke="#c4661c" stroke-width="0.2">家庭部門</text>
<text transform="translate(533.10,180.60) rotate(-90)" font-size="7.2" fill="#222" textLength="28.10" lengthAdjust="spacingAndGlyphs">REAS3.1</text>
<text transform="translate(541.50,175.60) rotate(-90)" font-size="7.2" fill="#222" textLength="20.60" lengthAdjust="spacingAndGlyphs">(2015)</text>
<text transform="translate(554.10,176.90) rotate(-90)" font-size="7.2" fill="#222" textLength="25.65" lengthAdjust="spacingAndGlyphs">MBC1.3</text>
<text transform="translate(562.50,174.40) rotate(-90)" font-size="7.2" fill="#222" textLength="20.65" lengthAdjust="spacingAndGlyphs">(2017)</text>
<text transform="translate(575.00,185.60) rotate(-90)" font-size="7.2" fill="#222" textLength="35.00" lengthAdjust="spacingAndGlyphs">ECLIPSE6b</text>
<text transform="translate(583.40,178.75) rotate(-90)" font-size="7.2" fill="#222" textLength="21.25" lengthAdjust="spacingAndGlyphs">(2015)</text>
<text transform="translate(595.60,185.00) rotate(-90)" font-size="7.2" fill="#222" textLength="33.75" lengthAdjust="spacingAndGlyphs">EDGAR5.0</text>
<text transform="translate(604.00,178.10) rotate(-90)" font-size="7.2" fill="#222" textLength="20.60" lengthAdjust="spacingAndGlyphs">(2015)</text>
<text transform="translate(616.20,170.00) rotate(-90)" font-size="7.2" fill="#222" textLength="18.10" lengthAdjust="spacingAndGlyphs">CEDS</text>
<text transform="translate(624.60,171.90) rotate(-90)" font-size="7.2" fill="#222" textLength="21.30" lengthAdjust="spacingAndGlyphs">(2014)</text>
<text x="427.3" y="163.30" font-size="12.8" fill="#111" stroke="#111" stroke-width="0.4" textLength="47.5" lengthAdjust="spacingAndGlyphs">本研究</text>
<text x="451.25" y="179.50" font-size="11.5" text-anchor="middle" fill="#111" font-weight="bold" textLength="25" lengthAdjust="spacingAndGlyphs">2019</text>
<text x="435.3" y="179.10" font-size="10.5" text-anchor="middle" fill="#111">(</text>
<text x="467.6" y="179.10" font-size="10.5" text-anchor="middle" fill="#111">)</text>
<text x="441.50" y="98.75" font-size="11.5" fill="#111" stroke="#111" stroke-width="0.35" font-weight="normal" textLength="18.50" lengthAdjust="spacingAndGlyphs">36%</text>
<text x="439.60" y="128.75" font-size="11.5" fill="#111" font-weight="bold" textLength="20.40" lengthAdjust="spacingAndGlyphs">64%</text>
<text x="570.60" y="99.25" font-size="7.5" fill="#111" font-weight="normal" textLength="12.40" lengthAdjust="spacingAndGlyphs">37%</text>
<path d="M435.5,84.2 Q432.4,86.5 432.4,89 Q432.4,91.8 435.5,94.3 Q432.4,96.8 432.4,99.6 Q432.4,102.6 435.5,105.4" fill="none" stroke="#777" stroke-width="0.8"/>
<line x1="429.80" y1="88.60" x2="433.20" y2="88.60" stroke="#777" stroke-width="1.0" />
<line x1="429.80" y1="98.90" x2="433.20" y2="98.90" stroke="#777" stroke-width="0.7" />
<line x1="429.80" y1="100.60" x2="433.20" y2="100.60" stroke="#777" stroke-width="0.7" />
<line x1="436.50" y1="94.50" x2="439.00" y2="94.50" stroke="#222" stroke-width="1.0" />
<rect x="435.50" y="241.25" width="28.00" height="55.48" fill="#00bb00" stroke="none" stroke-width="1" />
<rect x="435.50" y="296.73" width="28.00" height="23.77" fill="#ff8000" stroke="none" stroke-width="1" />
<rect x="435.50" y="241.25" width="28.00" height="79.25" fill="none" stroke="#111" stroke-width="1.3" />
<line x1="435.50" y1="296.73" x2="463.50" y2="296.73" stroke="#111" stroke-width="1.3" />
<line x1="421.00" y1="320.50" x2="477.20" y2="320.50" stroke="#262626" stroke-width="1.15" />
<line x1="477.20" y1="241.25" x2="477.20" y2="320.50" stroke="#262626" stroke-width="1.15" />
<line x1="477.20" y1="320.50" x2="472.20" y2="320.50" stroke="#262626" stroke-width="1.0" />
<text x="483.80" y="323.60" font-size="9.9" text-anchor="start" fill="#111" textLength="5.28" lengthAdjust="spacingAndGlyphs">0</text>
<line x1="477.20" y1="304.65" x2="472.20" y2="304.65" stroke="#262626" stroke-width="1.0" />
<text x="483.80" y="307.75" font-size="9.9" text-anchor="start" fill="#111" textLength="13.21" lengthAdjust="spacingAndGlyphs">0.2</text>
<line x1="477.20" y1="288.80" x2="472.20" y2="288.80" stroke="#262626" stroke-width="1.0" />
<text x="483.80" y="291.90" font-size="9.9" text-anchor="start" fill="#111" textLength="13.21" lengthAdjust="spacingAndGlyphs">0.4</text>
<line x1="477.20" y1="272.95" x2="472.20" y2="272.95" stroke="#262626" stroke-width="1.0" />
<text x="483.80" y="276.05" font-size="9.9" text-anchor="start" fill="#111" textLength="13.21" lengthAdjust="spacingAndGlyphs">0.6</text>
<line x1="477.20" y1="257.10" x2="472.20" y2="257.10" stroke="#262626" stroke-width="1.0" />
<text x="483.80" y="260.20" font-size="9.9" text-anchor="start" fill="#111" textLength="13.21" lengthAdjust="spacingAndGlyphs">0.8</text>
<line x1="477.20" y1="241.25" x2="472.20" y2="241.25" stroke="#262626" stroke-width="1.0" />
<text x="483.80" y="244.35" font-size="9.9" text-anchor="start" fill="#111" textLength="5.28" lengthAdjust="spacingAndGlyphs">1</text>
<g transform="translate(513.9,280.88) rotate(-90)">
<text x="-13.60 -4.50 4.50 13.60" y="0.00" font-size="8.0" text-anchor="middle" fill="#111" stroke="#111" stroke-width="0.1">排出割合</text>
</g>
<rect x="527.50" y="241.25" width="14.00" height="57.15" fill="#40fa40" stroke="none" stroke-width="1" />
<rect x="527.50" y="298.40" width="14.00" height="22.10" fill="#ff9f3f" stroke="none" stroke-width="1" />
<rect x="527.50" y="241.25" width="14.00" height="79.25" fill="none" stroke="#111" stroke-width="1.3" rx="0.8"/>
<line x1="527.50" y1="298.40" x2="541.50" y2="298.40" stroke="#111" stroke-width="1.3" />
<rect x="548.50" y="241.25" width="14.00" height="46.25" fill="#40fa40" stroke="none" stroke-width="1" />
<rect x="548.50" y="287.50" width="14.00" height="33.00" fill="#ff9f3f" stroke="none" stroke-width="1" />
<rect x="548.50" y="241.25" width="14.00" height="79.25" fill="none" stroke="#111" stroke-width="1.3" rx="0.8"/>
<line x1="548.50" y1="287.50" x2="562.50" y2="287.50" stroke="#111" stroke-width="1.3" />
<rect x="569.40" y="241.25" width="14.00" height="58.15" fill="#40fa40" stroke="none" stroke-width="1" />
<rect x="569.40" y="299.40" width="14.00" height="21.10" fill="#ff9f3f" stroke="none" stroke-width="1" />
<rect x="569.40" y="241.25" width="14.00" height="79.25" fill="none" stroke="#111" stroke-width="1.3" rx="0.8"/>
<line x1="569.40" y1="299.40" x2="583.40" y2="299.40" stroke="#111" stroke-width="1.3" />
<rect x="590.00" y="241.25" width="14.00" height="60.00" fill="#40fa40" stroke="none" stroke-width="1" />
<rect x="590.00" y="301.25" width="14.00" height="19.25" fill="#ff9f3f" stroke="none" stroke-width="1" />
<rect x="590.00" y="241.25" width="14.00" height="79.25" fill="none" stroke="#111" stroke-width="1.3" rx="0.8"/>
<line x1="590.00" y1="301.25" x2="604.00" y2="301.25" stroke="#111" stroke-width="1.3" />
<rect x="610.60" y="241.25" width="14.00" height="41.85" fill="#40fa40" stroke="none" stroke-width="1" />
<rect x="610.60" y="283.10" width="14.00" height="37.40" fill="#ff9f3f" stroke="none" stroke-width="1" />
<rect x="610.60" y="241.25" width="14.00" height="79.25" fill="none" stroke="#111" stroke-width="1.3" rx="0.8"/>
<line x1="610.60" y1="283.10" x2="624.60" y2="283.10" stroke="#111" stroke-width="1.3" />
<line x1="521.00" y1="320.50" x2="631.20" y2="320.50" stroke="#262626" stroke-width="1.15" />
<line x1="631.20" y1="241.25" x2="631.20" y2="320.50" stroke="#262626" stroke-width="1.15" />
<line x1="631.20" y1="320.50" x2="626.70" y2="320.50" stroke="#262626" stroke-width="1.0" />
<text x="637.80" y="323.60" font-size="9.9" text-anchor="start" fill="#111" textLength="5.28" lengthAdjust="spacingAndGlyphs">0</text>
<line x1="631.20" y1="304.65" x2="626.70" y2="304.65" stroke="#262626" stroke-width="1.0" />
<text x="637.80" y="307.75" font-size="9.9" text-anchor="start" fill="#111" textLength="13.21" lengthAdjust="spacingAndGlyphs">0.2</text>
<line x1="631.20" y1="288.80" x2="626.70" y2="288.80" stroke="#262626" stroke-width="1.0" />
<text x="637.80" y="291.90" font-size="9.9" text-anchor="start" fill="#111" textLength="13.21" lengthAdjust="spacingAndGlyphs">0.4</text>
<line x1="631.20" y1="272.95" x2="626.70" y2="272.95" stroke="#262626" stroke-width="1.0" />
<text x="637.80" y="276.05" font-size="9.9" text-anchor="start" fill="#111" textLength="13.21" lengthAdjust="spacingAndGlyphs">0.6</text>
<line x1="631.20" y1="257.10" x2="626.70" y2="257.10" stroke="#262626" stroke-width="1.0" />
<text x="637.80" y="260.20" font-size="9.9" text-anchor="start" fill="#111" textLength="13.21" lengthAdjust="spacingAndGlyphs">0.8</text>
<line x1="631.20" y1="241.25" x2="626.70" y2="241.25" stroke="#262626" stroke-width="1.0" />
<text x="637.80" y="244.35" font-size="9.9" text-anchor="start" fill="#111" textLength="5.28" lengthAdjust="spacingAndGlyphs">1</text>
<g transform="translate(661.5,280.88) rotate(-90)">
<text x="-13.60 -4.50 4.50 13.60" y="0.00" font-size="8.0" text-anchor="middle" fill="#111" stroke="#111" stroke-width="0.1">排出割合</text>
</g>
<text x="472.90" y="206.00" font-size="10" fill="#111">(f)</text>
<text x="489.00 498.50" y="206.00" font-size="10.5" text-anchor="middle" fill="#111" >CO</text>
<text x="507.75 518.40 529.00 540.00 551.00 561.50 572.50" y="206.20" font-size="10" text-anchor="middle" fill="#111" stroke="#111" stroke-width="0.3">部門別排出割合</text>
<text x="439.20 448.70 456.20 463.30 472.80 482.30 491.80" y="223.00" font-size="9" text-anchor="middle" fill="#1f8a1f" stroke="#1f8a1f" stroke-width="0.2">産業･運輸部門</text>
<text x="497.60 501.90 508.30 514.90 521.30 528.00 534.80 540.50" y="222.60" font-size="7" text-anchor="middle" fill="#1f8a1f" stroke="#1f8a1f" stroke-width="0.2">(家庭部門以外)</text>
<text x="439.00 448.40 457.90 467.40" y="233.00" font-size="9" text-anchor="middle" fill="#c4661c" stroke="#c4661c" stroke-width="0.2">家庭部門</text>
<text transform="translate(533.10,356.60) rotate(-90)" font-size="7.2" fill="#222" textLength="28.10" lengthAdjust="spacingAndGlyphs">REAS3.1</text>
<text transform="translate(541.50,351.60) rotate(-90)" font-size="7.2" fill="#222" textLength="20.60" lengthAdjust="spacingAndGlyphs">(2015)</text>
<text transform="translate(554.10,352.90) rotate(-90)" font-size="7.2" fill="#222" textLength="25.65" lengthAdjust="spacingAndGlyphs">MBC1.3</text>
<text transform="translate(562.50,350.40) rotate(-90)" font-size="7.2" fill="#222" textLength="20.65" lengthAdjust="spacingAndGlyphs">(2017)</text>
<text transform="translate(575.00,361.60) rotate(-90)" font-size="7.2" fill="#222" textLength="35.00" lengthAdjust="spacingAndGlyphs">ECLIPSE6b</text>
<text transform="translate(583.40,354.75) rotate(-90)" font-size="7.2" fill="#222" textLength="21.25" lengthAdjust="spacingAndGlyphs">(2015)</text>
<text transform="translate(595.60,361.00) rotate(-90)" font-size="7.2" fill="#222" textLength="33.75" lengthAdjust="spacingAndGlyphs">EDGAR5.0</text>
<text transform="translate(604.00,354.10) rotate(-90)" font-size="7.2" fill="#222" textLength="20.60" lengthAdjust="spacingAndGlyphs">(2015)</text>
<text transform="translate(616.20,346.00) rotate(-90)" font-size="7.2" fill="#222" textLength="18.10" lengthAdjust="spacingAndGlyphs">CEDS</text>
<text transform="translate(624.60,347.90) rotate(-90)" font-size="7.2" fill="#222" textLength="21.30" lengthAdjust="spacingAndGlyphs">(2014)</text>
<text x="427.3" y="339.30" font-size="12.8" fill="#111" stroke="#111" stroke-width="0.4" textLength="47.5" lengthAdjust="spacingAndGlyphs">本研究</text>
<text x="451.25" y="355.50" font-size="11.5" text-anchor="middle" fill="#111" font-weight="bold" textLength="25" lengthAdjust="spacingAndGlyphs">2019</text>
<text x="435.3" y="355.10" font-size="10.5" text-anchor="middle" fill="#111">(</text>
<text x="467.6" y="355.10" font-size="10.5" text-anchor="middle" fill="#111">)</text>
<text x="440.85" y="282.50" font-size="11.5" fill="#111" stroke="#111" stroke-width="0.35" font-weight="normal" textLength="18.55" lengthAdjust="spacingAndGlyphs">70%</text>
<text x="439.60" y="312.50" font-size="11.5" fill="#111" font-weight="bold" textLength="20.40" lengthAdjust="spacingAndGlyphs">30%</text>
<text x="570.20" y="271.90" font-size="8" fill="#111" font-weight="normal" textLength="11.70" lengthAdjust="spacingAndGlyphs">73%</text>
<path d="M435.5,241.5 Q432.6,247 432.6,254.5 Q432.6,262 435.5,268.5 Q432.6,275 432.6,282.5 Q432.6,290 435.5,297" fill="none" stroke="#777" stroke-width="0.8"/>
<line x1="429.60" y1="253.40" x2="434.30" y2="253.40" stroke="#777" stroke-width="0.7" />
<line x1="429.60" y1="255.20" x2="434.30" y2="255.20" stroke="#777" stroke-width="0.7" />
<line x1="429.60" y1="282.00" x2="434.30" y2="282.00" stroke="#777" stroke-width="0.8" />
<line x1="436.50" y1="269.00" x2="444.00" y2="269.00" stroke="#3a3a3a" stroke-width="1.0" stroke-dasharray="3.5,2.2"/>
</svg></body></html>
